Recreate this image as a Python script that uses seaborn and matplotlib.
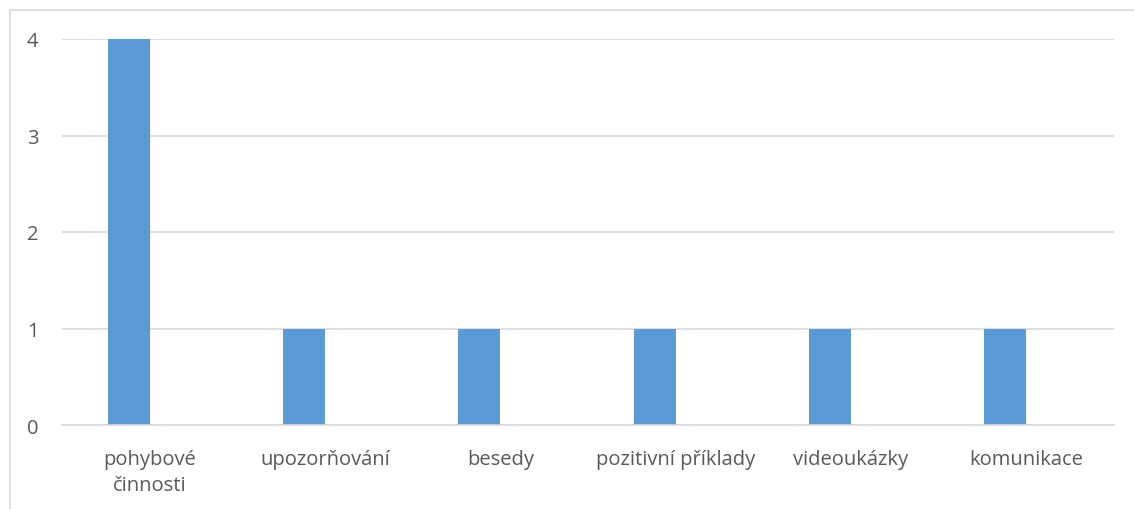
import pandas as pd
import seaborn as sns
import matplotlib.pyplot as plt
from matplotlib.patches import Rectangle

categories = ["pohybové\nčinnosti", "upozorňování", "besedy",
              "pozitivní příklady", "videoukázky", "komunikace"]
series1 = [4, 1, 1, 1, 1, 1]
series2 = [0, 0, 0, 0, 0, 0]  # empty second series, keeps bars shifted left
yticks = [0, 1, 2, 3, 4]

df = pd.DataFrame({
    "kategorie": categories * 2,
    "hodnota": series1 + series2,
    "rada": ["Řada 1"] * len(categories) + ["Řada 2"] * len(categories),
})

sns.set_style("white")
plt.rcParams["font.family"] = ["Open Sans", "DejaVu Sans"]

fig = plt.figure(figsize=(11.34, 5.10), dpi=100)
ax = fig.add_axes([62 / 1134, 1 - 426 / 510, (1114 - 62) / 1134, (426 - 40) / 510])

sns.barplot(data=df, x="kategorie", y="hodnota", hue="rada",
            palette=["#5B9BD5", "#ED7D31"], saturation=1, width=0.48,
            linewidth=0, legend=False, ax=ax)

ax.set_xlim(-0.5, len(categories) - 0.5)
ax.set_ylim(0, 4)
ax.set_yticks(yticks)
ax.yaxis.grid(True, color="#D9D9D9", linewidth=1.2)
ax.set_axisbelow(True)
for s in ["top", "right", "left"]:
    ax.spines[s].set_visible(False)
ax.spines["bottom"].set_color("#D9D9D9")
ax.spines["bottom"].set_linewidth(1.2)
ax.set_xlabel("")
ax.set_ylabel("")
ax.tick_params(axis="both", length=0, labelsize=14.5, labelcolor="#595959")
ax.tick_params(axis="y", pad=17)
ax.tick_params(axis="x", pad=17)
for lbl in ax.get_xticklabels():
    lbl.set_linespacing(1.45)
    lbl.set_verticalalignment("top")

# outer chart frame like the Excel chart area
fig.patches.append(Rectangle((10 / 1134, -0.05), 1.2, 1 - 11 / 510 + 0.05,
                             transform=fig.transFigure, fill=False,
                             edgecolor="#D9D9D9", linewidth=1.2))

fig.savefig("out.png", dpi=100)
